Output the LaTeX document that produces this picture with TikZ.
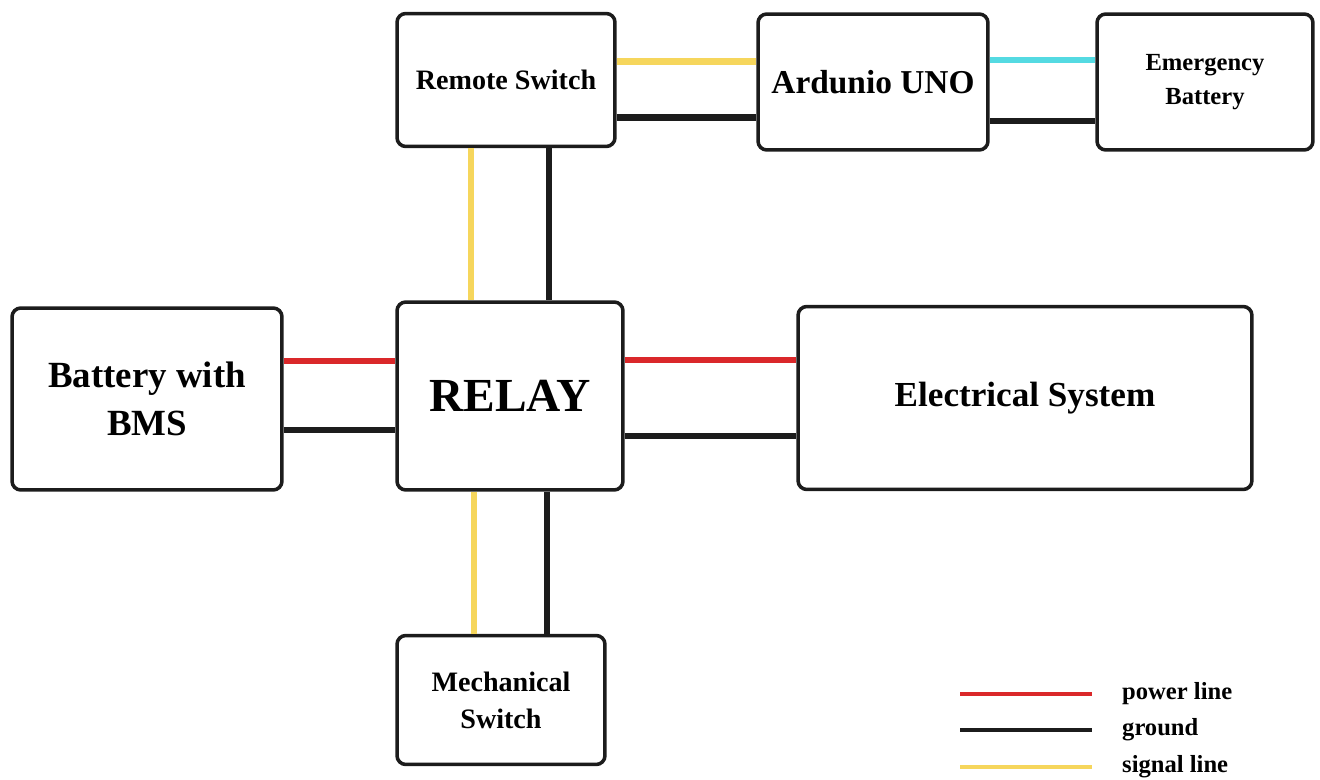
\documentclass[tikz,border=0pt]{standalone}
\usepackage{fontspec}
\setmainfont{Liberation Serif}
\definecolor{powerred}{RGB}{218,40,42}
\definecolor{signalyellow}{RGB}{246,214,92}
\definecolor{backupcyan}{RGB}{84,218,226}
\definecolor{groundblack}{RGB}{28,28,28}

\begin{document}
\begin{tikzpicture}[
        x=0.02cm, y=-0.02cm,
        box/.style={draw=groundblack, line width=2pt, rounded corners=5pt, fill=white, align=center, inner sep=2pt},
        power/.style={draw=powerred, line width=3.8pt},
        ground/.style={draw=groundblack, line width=3.8pt},
        signal/.style={draw=signalyellow, line width=3.8pt},
        backup/.style={draw=backupcyan, line width=3.8pt},
        label/.style={font=\bfseries\fontsize{14}{16}\selectfont, anchor=west}
    ]
        \useasboundingbox (0,0) rectangle (1320,780);

        % Blocks
        \node[box, minimum width=4.36cm, minimum height=2.66cm, font=\bfseries\fontsize{16}{19}\selectfont] (remote) at (506,80) {Remote Switch};
        \node[box, minimum width=4.6cm, minimum height=2.72cm, font=\bfseries\fontsize{19}{22}\selectfont] (uno) at (873,82) {Ardunio UNO};
        \node[box, minimum width=4.32cm, minimum height=2.72cm, font=\bfseries\fontsize{14}{19}\selectfont] (ebat) at (1205,82) {Emergency\\Battery};
        \node[box, minimum width=5.4cm, minimum height=3.64cm, font=\bfseries\fontsize{21}{27}\selectfont] (bms) at (147,399) {Battery with\\BMS};
        \node[box, minimum width=4.52cm, minimum height=3.76cm, font=\bfseries\fontsize{27}{30}\selectfont] (relay) at (510,396) {RELAY};
        \node[box, minimum width=9.08cm, minimum height=3.66cm, font=\bfseries\fontsize{20}{24}\selectfont] (elec) at (1025,398) {Electrical System};
        \node[box, minimum width=4.16cm, minimum height=2.58cm, font=\bfseries\fontsize{16}{21}\selectfont] (mech) at (501,700) {Mechanical\\Switch};

        % Top row
        \draw[signal] ([yshift=0.37cm]remote.east) -- ([yshift=0.37cm]remote.east -| uno.west);
        \draw[ground] ([yshift=-0.75cm]remote.east) -- ([yshift=-0.75cm]remote.east -| uno.west);
        \draw[backup] ([yshift=0.44cm]uno.east) -- ([yshift=0.44cm]uno.east -| ebat.west);
        \draw[ground] ([yshift=-0.78cm]uno.east) -- ([yshift=-0.78cm]uno.east -| ebat.west);

        % Remote switch to relay
        \draw[signal] ([xshift=-0.7cm]remote.south) -- ([xshift=-0.7cm]remote.south |- relay.north);
        \draw[ground] ([xshift=0.86cm]remote.south) -- ([xshift=0.86cm]remote.south |- relay.north);

        % Battery to relay
        \draw[power] ([yshift=0.76cm]bms.east) -- ([yshift=0.76cm]bms.east -| relay.west);
        \draw[ground] ([yshift=-0.62cm]bms.east) -- ([yshift=-0.62cm]bms.east -| relay.west);

        % Relay to electrical system
        \draw[power] ([yshift=0.72cm]relay.east) -- ([yshift=0.72cm]relay.east -| elec.west);
        \draw[ground] ([yshift=-0.8cm]relay.east) -- ([yshift=-0.8cm]relay.east -| elec.west);

        % Relay to mechanical switch
        \draw[signal] ([xshift=-0.72cm]relay.south) -- ([xshift=-0.72cm]relay.south |- mech.north);
        \draw[ground] ([xshift=0.74cm]relay.south) -- ([xshift=0.74cm]relay.south |- mech.north);

        % Legend
        \coordinate (pa) at (960,694);
        \coordinate (pb) at (1092,694);
        \coordinate (ga) at (960,730);
        \coordinate (gb) at (1092,730);
        \coordinate (sa) at (960,767);
        \coordinate (sb) at (1092,767);
        \draw[power, line width=2.8pt] (pa) -- (pb);
        \draw[ground, line width=2.8pt] (ga) -- (gb);
        \draw[signal, line width=2.8pt] (sa) -- (sb);
        \node[label] (plabel) at (1116,694) {power line};
        \node[label] (glabel) at (1116,730) {ground};
        \node[label] (slabel) at (1116,767) {signal line};
    \end{tikzpicture}
\end{document}
